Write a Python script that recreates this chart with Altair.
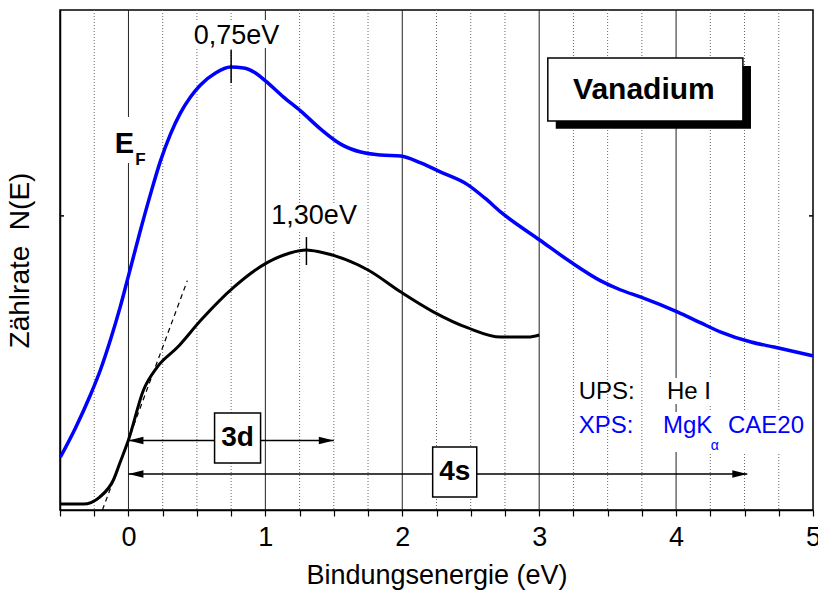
import altair as alt
import pandas as pd

# ---- spectra (binding energy in eV, count rate in arbitrary units) ----
xps_e = [-0.497, -0.387, -0.278, -0.205, -0.132, -0.058, 0.000, 0.088, 0.161, 0.234,
         0.307, 0.380, 0.453, 0.526, 0.636, 0.746, 0.841, 0.928, 1.001, 1.133,
         1.257, 1.404, 1.550, 1.696, 1.842, 1.988, 2.135, 2.281, 2.471, 2.602,
         2.727, 3.004, 3.231, 3.450, 3.596, 3.743, 4.013, 4.181, 4.327, 4.547,
         4.715, 5.000]
xps_n = [1.80, 2.79, 3.91, 4.76, 5.78, 6.94, 7.96, 9.52, 10.74, 11.87,
         12.78, 13.50, 14.04, 14.45, 14.86, 15.06, 15.03, 14.86, 14.59, 14.04,
         13.57, 12.95, 12.44, 12.17, 12.07, 12.04, 11.80, 11.49, 11.08, 10.61,
         10.10, 9.18, 8.43, 7.79, 7.48, 7.24, 6.73, 6.36, 6.05, 5.71,
         5.54, 5.24]

ups_e = [-0.50, -0.33, -0.21, -0.11, -0.06, 0.00, 0.11, 0.21, 0.36, 0.53, 0.77, 1.02,
         1.18, 1.30, 1.40, 1.75, 1.99, 2.23, 2.48, 2.72, 2.92, 3.00]
ups_n = [0.20, 0.20, 0.44, 1.02, 1.63, 2.38, 4.08, 4.86, 5.54, 6.46, 7.58, 8.43,
         8.74, 8.84, 8.77, 8.16, 7.41, 6.73, 6.19, 5.88, 5.88, 5.95]

# Fermi-edge tangent
tangent_e = [-0.19, 0.43]
tangent_n = [0.0, 7.8]

# peak positions
peak_labels = ["0,75eV", "1,30eV"]
peak_e = [0.75, 1.30]

# grid
grid_major = [0, 1, 2, 3, 4]
grid_minor = [-0.25, 0.25, 0.5, 0.75, 1.25, 1.5, 1.75, 2.25, 2.5, 2.75,
              3.25, 3.5, 3.75, 4.25, 4.5, 4.75]
x_ticks = [-0.5 + 0.25 * i for i in range(23)]

BLUE = "#0000FF"
FONT = "Liberation Sans"

xs = alt.Scale(domain=[-0.5, 5], nice=False, zero=False)
ys = alt.Scale(domain=[0, 17], nice=False, zero=False)

x_axis = alt.Axis(values=x_ticks,
                  labelExpr="datum.value % 1 === 0 ? format(datum.value, 'd') : ''",
                  grid=False, tickSize=6, tickColor="black", tickWidth=1.2,
                  domainColor="black", domainWidth=1.5, labelFontSize=27,
                  labelPadding=8, labelFlush=False, labelOverlap=False,
                  titleFontSize=27, titleFontWeight="normal", titlePadding=12,
                  labelColor="black", titleColor="black", labelFont=FONT, titleFont=FONT)
y_axis = alt.Axis(values=[10], ticks=False, labels=False, grid=False,
                  domainColor="black", domainWidth=1.5, titleFontSize=28,
                  titleFontWeight="normal", titlePadding=26, titleColor="black",
                  titleFont=FONT)


def X(field="e"):
    return alt.X(f"{field}:Q", scale=xs, axis=x_axis, title="Bindungsenergie (eV)")


def Y(field="n"):
    return alt.Y(f"{field}:Q", scale=ys, axis=y_axis, title="Zählrate\u00a0\u00a0N(E)")


def rect_layer(e1, e2, n1, n2, **kw):
    df = pd.DataFrame({"e": [e1], "e2": [e2], "n": [n1], "n2": [n2]})
    return alt.Chart(df).mark_rect(**kw).encode(
        x=X(), x2="e2:Q", y=Y(), y2="n2:Q")


def text_layer(txt, e, n, **kw):
    df = pd.DataFrame({"e": [e], "n": [n], "t": [txt]})
    kw.setdefault("font", FONT)
    kw.setdefault("color", "black")
    return alt.Chart(df).mark_text(**kw).encode(x=X(), y=Y(), text="t:N")


# gridlines
major = alt.Chart(pd.DataFrame({"e": grid_major})).mark_rule(
    color="#222222", strokeWidth=1).encode(x=X())
minor = alt.Chart(pd.DataFrame({"e": grid_minor})).mark_rule(
    color="#666666", strokeWidth=1, strokeDash=[1, 2]).encode(x=X())

# white label backgrounds (interrupt the grid)
bgs = [
    rect_layer(0.453, 1.133, 16.66, 15.71, color="white"),
    rect_layer(1.023, 1.689, 10.44, 9.52, color="white"),
    rect_layer(-0.132, 0.146, 13.36, 11.80, color="white"),
    rect_layer(3.904, 4.269, 4.49, 3.60, color="white"),
    rect_layer(3.874, 4.956, 3.33, 1.97, color="white"),
]

# inner y ticks on left and right frame
ytick_df = pd.DataFrame({"n": [10]})
ytick_l = alt.Chart(ytick_df).mark_rule(color="black", strokeWidth=1.5).encode(
    x=alt.value(0), x2=alt.value(4), y=Y())
ytick_r = alt.Chart(ytick_df).mark_rule(color="black", strokeWidth=1.5).encode(
    x=alt.value(749), x2=alt.value(753), y=Y())

xps = alt.Chart(pd.DataFrame({"e": xps_e, "n": xps_n})).mark_line(
    color=BLUE, strokeWidth=3.5, interpolate="monotone").encode(x=X(), y=Y())
ups = alt.Chart(pd.DataFrame({"e": ups_e, "n": ups_n})).mark_line(
    color="black", strokeWidth=3, interpolate="monotone").encode(x=X(), y=Y())
tangent = alt.Chart(pd.DataFrame({"e": tangent_e, "n": tangent_n})).mark_line(
    color="black", strokeWidth=1.2, strokeDash=[5, 4]).encode(x=X(), y=Y())

# peak markers
peak_ticks = alt.Chart(pd.DataFrame({
    "e": peak_e, "n": [15.64, 9.28], "n2": [14.52, 8.33]})).mark_rule(
    color="black", strokeWidth=1.5).encode(x=X(), y=Y(), y2="n2:Q")
peak_text = alt.Chart(pd.DataFrame({
    "e": [0.789, 1.356], "n": [16.12, 10.0], "t": peak_labels})).mark_text(
    font=FONT, fontSize=27, color="black", baseline="middle").encode(
    x=X(), y=Y(), text="t:N")

# E_F label
ef = [
    text_layer("E", -0.029, 12.14, fontSize=29, fontWeight="bold", baseline="alphabetic"),
    text_layer("F", 0.088, 11.73, fontSize=17, fontWeight="bold", baseline="alphabetic"),
]

# 3d / 4s arrows
arrow_lines = alt.Chart(pd.DataFrame({
    "e": [0.0, 0.0], "e2": [1.5, 4.52], "n": [2.36, 1.22]})).mark_rule(
    color="black", strokeWidth=1.5).encode(x=X(), x2="e2:Q", y=Y())
head_left = alt.Chart(pd.DataFrame({"e": [0.0, 0.0], "n": [2.36, 1.22]})).mark_point(
    shape="M0,0L1,-0.25L1,0.25Z", filled=True, color="black", opacity=1, size=900).encode(
    x=X(), y=Y())
head_right = alt.Chart(pd.DataFrame({"e": [1.5, 4.52], "n": [2.36, 1.22]})).mark_point(
    shape="M0,0L-1,-0.25L-1,0.25Z", filled=True, color="black", opacity=1, size=900).encode(
    x=X(), y=Y())
boxes = [
    rect_layer(0.629, 0.965, 3.30, 1.60, fill="white", stroke="black", strokeWidth=1.5),
    rect_layer(2.222, 2.544, 2.14, 0.44, fill="white", stroke="black", strokeWidth=1.5),
    text_layer("3d", 0.797, 2.45, fontSize=28, fontWeight="bold", baseline="middle"),
    text_layer("4s", 2.383, 1.29, fontSize=28, fontWeight="bold", baseline="middle"),
]

# title box with shadow
vanadium = [
    rect_layer(3.121, 4.547, 15.10, 12.96, color="black"),
    rect_layer(3.063, 4.488, 15.37, 13.23, fill="white", stroke="black", strokeWidth=1.5),
    text_layer("Vanadium", 3.765, 14.28, fontSize=30, fontWeight="bold", baseline="middle"),
]

# source legend
legend = [
    text_layer("UPS:", 3.289, 3.77, fontSize=24, align="left", baseline="alphabetic"),
    text_layer("He I", 3.933, 3.77, fontSize=24, align="left", baseline="alphabetic"),
    text_layer("XPS:", 3.289, 2.62, fontSize=24, align="left", baseline="alphabetic", color=BLUE),
    text_layer("MgK", 3.904, 2.62, fontSize=24, align="left", baseline="alphabetic", color=BLUE),
    text_layer("α", 4.254, 2.04, fontSize=14, align="left", baseline="alphabetic", color=BLUE),
    text_layer("CAE20", 4.379, 2.62, fontSize=24, align="left", baseline="alphabetic", color=BLUE),
]

chart = alt.layer(
    major, minor, *bgs, ytick_l, ytick_r, tangent, ups, xps, peak_ticks, peak_text,
    *ef, arrow_lines, head_left, head_right, *boxes, *vanadium, *legend,
).properties(
    width=753, height=500,
    padding={"left": 60, "top": 10, "right": 5, "bottom": 82},
    autosize=alt.AutoSizeParams(type="none"),
    background="white",
).configure_view(stroke="black", strokeWidth=1.5)

chart.save("out.html", embed_options={"renderer": "svg", "actions": False})
